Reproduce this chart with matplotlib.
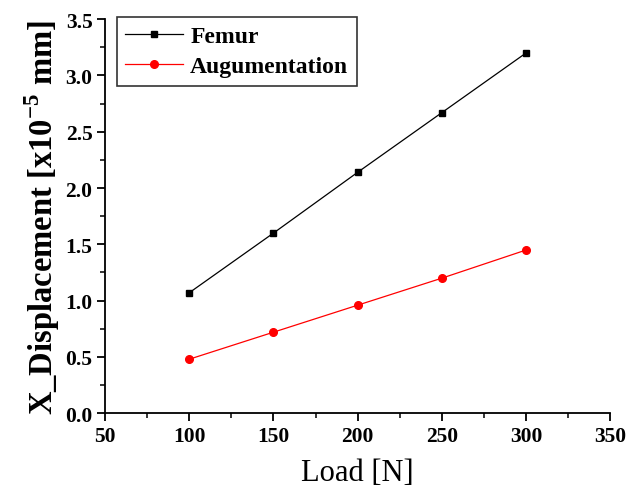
import matplotlib
matplotlib.use("Agg")
import matplotlib.pyplot as plt
from matplotlib.ticker import MultipleLocator

load = [100, 150, 200, 250, 300]
femur = [1.07, 1.60, 2.14, 2.67, 3.20]
augmentation = [0.48, 0.72, 0.96, 1.20, 1.45]
ytick_vals = [0, 0.5, 1.0, 1.5, 2.0, 2.5, 3.0, 3.5]
ytick_labels = ['0.0', '0.5', '1.0', '1.5', '2.0', '2.5', '3.0', '3.5']

plt.rcParams['font.family'] = ['Liberation Serif', 'DejaVu Serif']
plt.rcParams['mathtext.fontset'] = 'custom'
plt.rcParams['mathtext.rm'] = 'Liberation Serif:bold'
plt.rcParams['mathtext.bf'] = 'Liberation Serif:bold'

fig = plt.figure(figsize=(6.41, 4.89), dpi=100)
ax = fig.add_axes([0.1638, 0.1528, 0.9524 - 0.1638, 0.959 - 0.1528])

ax.plot(load, femur, color='black', lw=0.9, marker='s', markersize=5, label='Femur')
ax.plot(load, augmentation, color='red', lw=0.9, marker='o', markersize=5.5, label='Augumentation')

ax.set_xlim(50, 350)
ax.set_ylim(0, 3.5)
ax.xaxis.set_major_locator(MultipleLocator(50))
ax.xaxis.set_minor_locator(MultipleLocator(25))
ax.yaxis.set_minor_locator(MultipleLocator(0.25))
ax.set_yticks(ytick_vals)
ax.set_yticklabels(ytick_labels)

for s in ['top', 'right']:
    ax.spines[s].set_visible(False)
for s in ['left', 'bottom']:
    ax.spines[s].set_linewidth(1.3)

ax.tick_params(which='major', direction='out', length=6, width=1.3, labelsize=15.5, pad=3)
ax.tick_params(which='minor', direction='out', length=3.5, width=1.1)
for lab in ax.get_xticklabels() + ax.get_yticklabels():
    lab.set_fontweight('bold')

ax.set_xlabel('Load [N]', fontsize=22, labelpad=9)
ax.set_ylabel(r'X_Displacement [x10$^{-5}$ mm]', fontsize=23.5, fontweight='bold', labelpad=2)

leg = ax.legend(loc='upper left', bbox_to_anchor=(0.0237, 1.005), borderaxespad=0,
                frameon=True, fancybox=False, edgecolor='black',
                prop={'weight': 'bold', 'size': 17}, handlelength=2.44,
                handletextpad=0.3, borderpad=0.36, labelspacing=0.37)
leg.get_frame().set_linewidth(1.2)

fig.savefig('out.png', dpi=100)
